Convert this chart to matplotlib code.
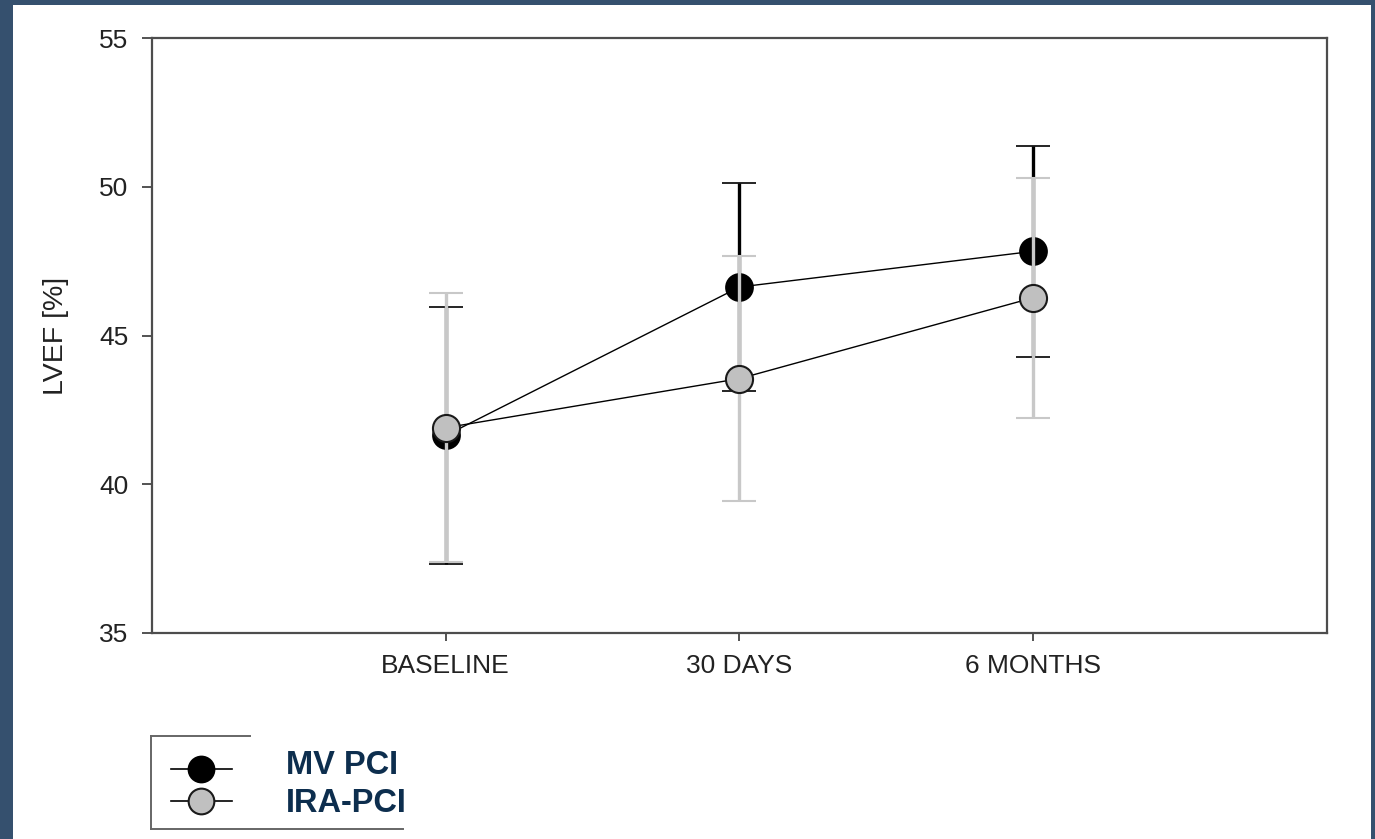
import numpy as np
import matplotlib
matplotlib.use('Agg')
import matplotlib.pyplot as plt
from matplotlib.lines import Line2D
from matplotlib.patches import Rectangle

plt.rcParams['font.family'] = ['Liberation Sans', 'DejaVu Sans']

timepoints = ['BASELINE', '30 DAYS', '6 MONTHS']
mv_mean = [41.64, 46.63, 47.83]
mv_sd = [4.32, 3.50, 3.54]
ira_mean = [41.90, 43.55, 46.27]
ira_sd = [4.52, 4.12, 4.04]
series_names = ['MV PCI', 'IRA-PCI']

W, H = 1375, 839
frame_col = '#35506e'
fig = plt.figure(figsize=(W / 100, H / 100), dpi=100, facecolor=frame_col)
# white page inside the dark frame
fig.add_artist(Rectangle((13 / W, 0), (1371 - 13) / W, 1 - 5 / H,
                         transform=fig.transFigure, facecolor='white',
                         edgecolor='none', zorder=-10))

ax = fig.add_axes([152 / W, 1 - 633 / H, (1327 - 152) / W, (633 - 38) / H])
x = np.arange(1, len(timepoints) + 1)

ax.errorbar(x, mv_mean, yerr=mv_sd, fmt='o-', color='black', lw=1.0,
            ms=19.5, mfc='black', mec='black', mew=1.2,
            ecolor='black', elinewidth=2.4, capsize=12, capthick=2.6, zorder=2)
ax.errorbar(x, ira_mean, yerr=ira_sd, fmt='o-', color='black', lw=1.0,
            ms=19.5, mfc='#c0c0c0', mec='#1a1a1a', mew=1.5,
            ecolor='#c8c8c8', elinewidth=2.4, capsize=12, capthick=2.6, zorder=3)

ax.set_xlim(0, 4)
ax.set_ylim(35, 55)
ax.set_xticks(x)
ax.set_xticklabels(timepoints)
ax.set_yticks([35, 40, 45, 50, 55])
ax.tick_params(axis='y', direction='out', length=7, width=1.3, color='#444444',
               labelsize=19, labelcolor='#222222', pad=10)
ax.tick_params(axis='x', direction='out', length=6, width=1.3, color='#444444',
               labelsize=19, labelcolor='#222222', pad=9)
for s in ax.spines.values():
    s.set_color('#4d4d4d')
    s.set_linewidth(1.6)
ax.set_ylabel('LVEF [%]', fontsize=20.5, color='#222222', labelpad=22)

# legend box (partly covered by the label panel)
def fx(px):
    return px / W

def fy(py):
    return 1 - py / H

box_col = '#666666'
fig.add_artist(Line2D([fx(151), fx(151)], [fy(736), fy(829)], color=box_col, lw=1.4))
fig.add_artist(Line2D([fx(151), fx(250)], [fy(736), fy(736)], color=box_col, lw=1.4))
fig.add_artist(Line2D([fx(151), fx(403)], [fy(829), fy(829)], color=box_col, lw=1.4))

styles = [dict(mfc='black', mec='black'), dict(mfc='#c0c0c0', mec='#1a1a1a')]
for name, st, yy, ty in zip(series_names, styles, [769, 801], [765, 803]):
    fig.add_artist(Line2D([fx(171), fx(232)], [fy(yy), fy(yy)], color='black', lw=1.2))
    fig.add_artist(Line2D([fx(201.5)], [fy(yy)], marker='o', ms=18.5, mew=1.5, **st))
    fig.text(fx(286), fy(ty), name, fontsize=23.5, fontweight='bold',
             color='#0d2e4e', ha='left', va='center')

fig.savefig('out.png', dpi=100, facecolor=fig.get_facecolor())
